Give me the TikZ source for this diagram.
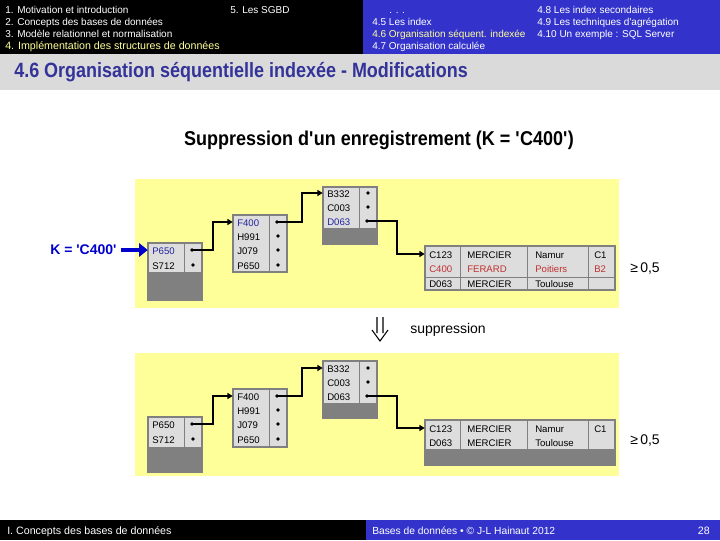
\documentclass[tikz,border=0pt]{standalone}
\usepackage{fontspec}
\setmainfont{Liberation Sans}
\newfontfamily\narrowb[FakeStretch=0.87]{Liberation Sans}
\newfontfamily\narrowc[FakeStretch=0.9]{Liberation Sans}
\usetikzlibrary{arrows.meta,fit}
\newcommand\sq{\textquotesingle}
\definecolor{hdrblue}{HTML}{3333CC}
\definecolor{hdryellow}{HTML}{FFFF99}
\definecolor{bandgray}{HTML}{DADADA}
\definecolor{titleblue}{HTML}{333399}
\definecolor{panelyellow}{HTML}{FFFF99}
\definecolor{cellgray}{HTML}{DDDDDD}
\definecolor{darkgray}{HTML}{808080}
\definecolor{recred}{HTML}{C03030}
\definecolor{keyblue}{HTML}{2424A0}
\definecolor{kblue}{HTML}{0000CC}
\tikzset{
  hdr/.style={anchor=west,inner sep=0pt,text height=0.72em,text depth=0pt,font=\fontsize{7.5pt}{8pt}\selectfont,text=white},
  cell/.style={anchor=west,inner sep=0pt,text height=0.72em,text depth=0pt,font=\fontsize{7.2pt}{8pt}\selectfont},
  dot/.style={circle,fill=black,inner sep=0pt,minimum size=2.8pt},
  blkframe/.style={draw=darkgray,line width=0.9pt},
  divline/.style={draw=darkgray,line width=0.75pt},
  conn/.style={line width=1.6pt,-{Triangle[length=4pt,width=4.5pt]}},
  boxfit/.style={inner sep=0pt},
  plain/.style={anchor=west,inner sep=0pt,text height=0.72em,text depth=0pt,font=\fontsize{10.5pt}{12pt}\selectfont},
}
\begin{document}
\begin{tikzpicture}[x=0.75pt,y=-0.75pt]
\useasboundingbox (0,0) rectangle (720,540);
% header
\fill[black] (0,0) rectangle (363,54);
\fill[hdrblue] (363,0) rectangle (720,54);
\fill[bandgray] (0,54) rectangle (720,90);
\node[hdr] (h1) at (5,9) {1. Motivation et introduction};
\node[hdr] (h2) at (5,21) {2. Concepts des bases de données};
\node[hdr] (h3) at (5,33) {3. Modèle relationnel et normalisation};
\node[hdr,text=hdryellow,font=\fontsize{8pt}{9pt}\selectfont] (h4) at (5,45) {4. Implémentation des structures de données};
\node[hdr] (h5) at (230,9) {5. Les SGBD};
\node[hdr] (r0) at (389,9) {. . .};
\node[hdr] (r1) at (372,21) {4.5 Les index};
\node[hdr,text=hdryellow] (r2) at (372,33) {4.6 Organisation séquent. indexée};
\node[hdr] (r3) at (372,45) {4.7 Organisation calculée};
\node[hdr] (r4) at (537,9) {4.8 Les index secondaires};
\node[hdr] (r5) at (537,21) {4.9 Les techniques d\sq agrégation};
\node[hdr] (r6) at (537,33) {4.10 Un exemple : SQL Server};
\node[anchor=west,inner sep=0pt,text height=0.72em,text depth=0pt,text=titleblue,font=\narrowb\bfseries\fontsize{15.5pt}{17pt}\selectfont] (band) at (14,73) {4.6 Organisation séquentielle indexée - Modifications};
% footer
\fill[black] (0,520) rectangle (366,540);
\fill[hdrblue] (366,520) rectangle (720,540);
\node[hdr,font=\fontsize{8pt}{9pt}\selectfont] (f1) at (7,530) {I. Concepts des bases de données};
\node[hdr,font=\fontsize{7.7pt}{9pt}\selectfont] (f2) at (372,530) {Bases de données • © J-L Hainaut 2012};
\node[hdr,anchor=east,font=\fontsize{8pt}{9pt}\selectfont] (f3) at (710,530) {28};
% title
\node[inner sep=0pt,text height=0.72em,text depth=0pt,font=\narrowc\bfseries\fontsize{15pt}{17pt}\selectfont] (title) at (379,141) {Suppression d\sq un enregistrement (K = \sq C400\sq)};
% panels
\fill[panelyellow] (135,179) rectangle (619,308);
\fill[panelyellow] (135,353) rectangle (619,476);

% ===== upper =====
\fill[cellgray] (148,243) rectangle (202,272);
\fill[darkgray] (148,272) rectangle (202,300);
\draw[divline] (184,243) -- (184,272);
\draw[blkframe] (148,243) rectangle (202,300);
\node[boxfit,fit={(148,243) (202,300)}] (L1) {};
\node[cell,text=keyblue] (uL1a) at (152,250) {P650};
\node[cell] (uL1b) at (152,265) {S712};
\node[dot] (duL1a) at (192,250) {};
\node[dot] (duL1b) at (193,265) {};
% index block F400
\fill[cellgray] (233,215) rectangle (287,272);
\draw[divline] (269,215) -- (269,272);
\draw[blkframe] (233,215) rectangle (287,272);
\node[boxfit,fit={(233,215) (287,272)}] (I1) {};
\node[cell,text=keyblue] (uI1a) at (237,222) {F400};
\node[cell] (uI1b) at (237,236) {H991};
\node[cell] (uI1c) at (237,250) {J079};
\node[cell] (uI1d) at (237,265) {P650};
\node[dot] (duI1a) at (277,222) {};
\node[dot] (duI1b) at (278,236) {};
\node[dot] (duI1c) at (278,250) {};
\node[dot] (duI1d) at (278,265) {};
% index block B332
\fill[cellgray] (323,187) rectangle (377,228);
\fill[darkgray] (323,228) rectangle (377,244);
\draw[divline] (359,187) -- (359,228);
\draw[blkframe] (323,187) rectangle (377,244);
\node[boxfit,fit={(323,187) (377,244)}] (T1) {};
\node[cell] (uT1a) at (327,193) {B332};
\node[cell] (uT1b) at (327,207) {C003};
\node[cell,text=keyblue] (uT1c) at (327,221) {D063};
\node[dot] (duT1a) at (368,193) {};
\node[dot] (duT1b) at (368,207) {};
\node[dot] (duT1c) at (367,221) {};
% data block
\fill[cellgray] (425,246) rectangle (615,290);
\draw[divline] (460,246) -- (460,290) (527,246) -- (527,290) (588,246) -- (588,290) (425,277) -- (615,277);
\draw[blkframe] (425,246) rectangle (615,290);
\node[boxfit,fit={(425,246) (615,290)}] (D1) {};
\node[cell] (uD1a) at (429,254) {C123};
\node[cell] at (467,254) {MERCIER};
\node[cell] at (535,254) {Namur};
\node[cell] at (594,254) {C1};
\node[cell,text=recred] at (429,268) {C400};
\node[cell,text=recred] at (467,268) {FERARD};
\node[cell,text=recred] at (535,268) {Poitiers};
\node[cell,text=recred] at (594,268) {B2};
\node[cell] at (429,283) {D063};
\node[cell] at (467,283) {MERCIER};
\node[cell] at (535,283) {Toulouse};
% connectors
\draw[conn] (duL1a.center) -- ++(21,0) |- (I1.west |- uI1a.west);
\draw[conn] (duI1a.center) -- ++(25,0) |- (T1.west |- uT1a.west);
\draw[conn] (duT1c.center) -- ++(30,0) |- (D1.west |- uD1a.west);
% key
\node[anchor=west,inner sep=0pt,text height=0.72em,text depth=0pt,text=kblue,font=\bfseries\fontsize{10.5pt}{12pt}\selectfont] (key) at (50,250) {K = \sq C400\sq};
\draw[kblue,line width=3.2pt,-{Triangle[length=6.5pt,width=10pt]}] (key.east) ++(4,0) -- (L1.west |- uL1a.west);
\node[plain] (ge1) at (630,268) {≥\,0,5};

% suppression
\draw[line width=0.8pt] (377,317) -- (377,333) (383,317) -- (383,333) (372,330) -- (380,341) -- (388,330);
\node[plain] (supp) at (410,329) {suppression};

% ===== lower =====
\fill[cellgray] (148,417) rectangle (202,447);
\fill[darkgray] (148,447) rectangle (202,472);
\draw[divline] (184,417) -- (184,447);
\draw[blkframe] (148,417) rectangle (202,472);
\node[boxfit,fit={(148,417) (202,472)}] (L2) {};
\node[cell] (lL2a) at (152,424) {P650};
\node[cell] (lL2b) at (152,439) {S712};
\node[dot] (dlL2a) at (192,424) {};
\node[dot] (dlL2b) at (193,439) {};
% F400
\fill[cellgray] (233,389) rectangle (287,447);
\draw[divline] (269,389) -- (269,447);
\draw[blkframe] (233,389) rectangle (287,447);
\node[boxfit,fit={(233,389) (287,447)}] (I2) {};
\node[cell] (lI2a) at (237,396) {F400};
\node[cell] (lI2b) at (237,410) {H991};
\node[cell] (lI2c) at (237,424) {J079};
\node[cell] (lI2d) at (237,439) {P650};
\node[dot] (dlI2a) at (277,396) {};
\node[dot] (dlI2b) at (278,410) {};
\node[dot] (dlI2c) at (278,424) {};
\node[dot] (dlI2d) at (278,439) {};
% B332
\fill[cellgray] (323,361) rectangle (377,403);
\fill[darkgray] (323,403) rectangle (377,418);
\draw[divline] (359,361) -- (359,403);
\draw[blkframe] (323,361) rectangle (377,418);
\node[boxfit,fit={(323,361) (377,418)}] (T2) {};
\node[cell] (lT2a) at (327,368) {B332};
\node[cell] (lT2b) at (327,382) {C003};
\node[cell] (lT2c) at (327,396) {D063};
\node[dot] (dlT2a) at (368,368) {};
\node[dot] (dlT2b) at (368,382) {};
\node[dot] (dlT2c) at (367,396) {};
% data
\fill[cellgray] (425,420) rectangle (615,449);
\fill[darkgray] (425,449) rectangle (615,465);
\draw[divline] (460,420) -- (460,449) (527,420) -- (527,449) (588,420) -- (588,449);
\draw[blkframe] (425,420) rectangle (615,465);
\node[boxfit,fit={(425,420) (615,465)}] (D2) {};
\node[cell] (lD2a) at (429,428) {C123};
\node[cell] at (467,428) {MERCIER};
\node[cell] at (535,428) {Namur};
\node[cell] at (594,428) {C1};
\node[cell] at (429,442) {D063};
\node[cell] at (467,442) {MERCIER};
\node[cell] at (535,442) {Toulouse};
\draw[conn] (dlL2a.center) -- ++(21,0) |- (I2.west |- lI2a.west);
\draw[conn] (dlI2a.center) -- ++(25,0) |- (T2.west |- lT2a.west);
\draw[conn] (dlT2c.center) -- ++(30,0) |- (D2.west |- lD2a.west);
\node[plain] (ge2) at (630,440) {≥\,0,5};
\end{tikzpicture}
\end{document}
